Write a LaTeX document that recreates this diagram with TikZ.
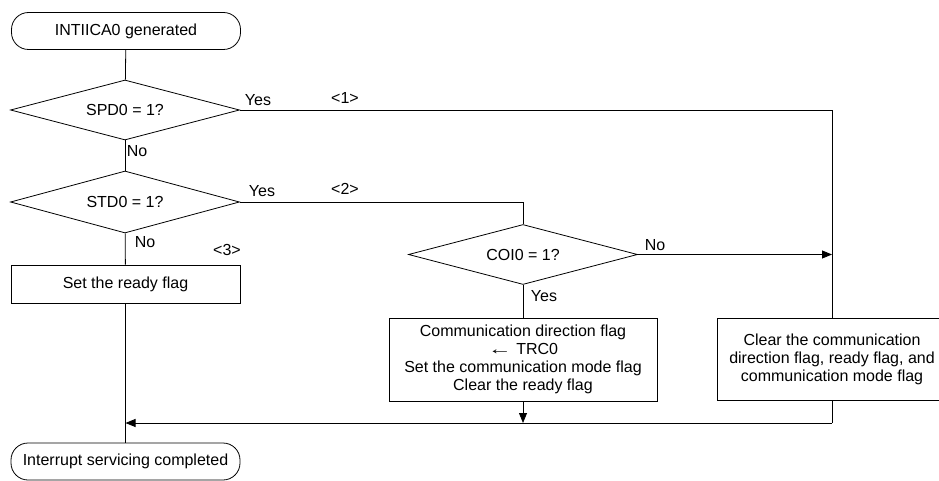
\documentclass[tikz,border=0pt]{standalone}
\usepackage{fontspec}
\setmainfont{Liberation Sans}
\usetikzlibrary{shapes.geometric,arrows.meta,calc}

\tikzset{
  term/.style={draw, thick, rounded corners=17pt, minimum width=229pt, minimum height=37pt, inner sep=1pt},
  proc/.style={draw, thick, align=center, inner sep=1pt},
  cond/.style={draw, thick, diamond, aspect=3.8, inner sep=1pt, minimum width=229pt, minimum height=60pt},
  flow/.style={thick},
  arr/.style={thick, -{Triangle[length=10pt,width=8pt]}},
  tag/.style={inner sep=0pt}
}

\begin{document}
\begin{tikzpicture}[x=1pt, y=-1pt, font=\fontsize{16}{18}\selectfont]
  \useasboundingbox (0,0) rectangle (939,481);
  % Main column
  \node[term] (start) at (126,31) {INTIICA0 generated};
  \node[cond] (spd) at (125,110) {SPD0 = 1?};
  \node[cond, minimum height=62pt] (std) at (125,202) {STD0 = 1?};
  \node[proc, minimum width=229pt, minimum height=38pt] (ready) at (125.5,284) {Set the ready flag};
  \node[term] (end) at (125.5,461.5) {Interrupt servicing completed};
  % Right branches
  \node[cond] (coi) at (523,254.5) {COI0 = 1?};
  \node[proc, minimum width=268pt, minimum height=83pt] (comm) at (523,359.5)
    {Communication direction flag\\\scalebox{1.5}[1]{←} TRC0\\Set the communication mode flag\\Clear the ready flag};
  \node[proc, minimum width=230pt, minimum height=82pt] (clr) at (832,359)
    {Clear the communication\\direction flag, ready flag, and\\communication mode flag};
  \coordinate (back) at (832,423);
  % Connectors
  \draw[flow] (start) -- (spd);
  \draw[flow] (spd) -- (std);
  \draw[flow] (std) -- (ready);
  \draw[flow] (ready) -- (end);
  \draw[flow] (spd.east) -| (clr.north);
  \draw[flow] (std.east) -| (coi.north);
  \draw[arr] (coi.east) -- (coi.east -| clr.north);
  \draw[flow] (coi) -- (comm);
  \draw[arr] (comm.south) -- (comm.south |- back);
  \draw[flow] (clr.south) -- (back);
  \draw[arr] (back) -- (back -| end.north);
  % Labels
  \node[tag] (yes1) at (258,100) {Yes};
  \node[tag] (no1) at (137,151) {No};
  \node[tag] (yes2) at (262,191) {Yes};
  \node[tag] (no2) at (145,242) {No};
  \node[tag] (yes3) at (544,296) {Yes};
  \node[tag] (no3) at (655,245) {No};
  \node[tag] (m1) at (345,98) {<1>};
  \node[tag] (m2) at (345,189) {<2>};
  \node[tag] (m3) at (227,250) {<3>};
\end{tikzpicture}
\end{document}
